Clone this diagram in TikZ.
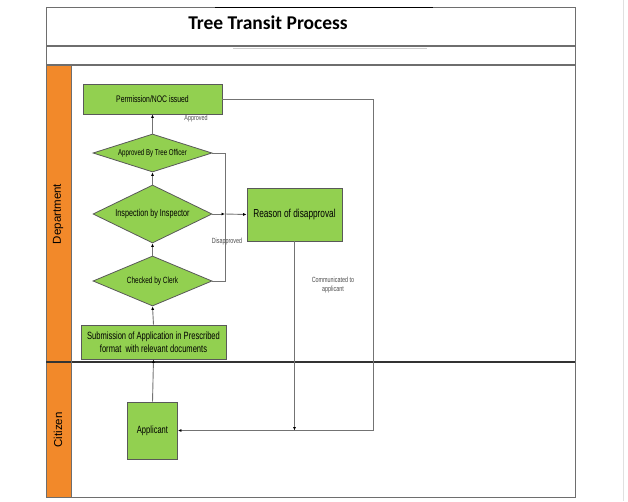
\documentclass[tikz,border=0pt]{standalone}
\usepackage{fontspec}
\setmainfont{Liberation Sans}
\newfontfamily\narrowfont{Liberation Sans}[FakeStretch=0.72]
\newfontfamily\titlefont{Carlito}
\usetikzlibrary{shapes.geometric,arrows.meta}

\definecolor{procgreen}{RGB}{146,208,80}
\definecolor{laneorange}{RGB}{242,137,42}
\definecolor{framegray}{RGB}{110,110,110}
\definecolor{linkgray}{RGB}{115,115,115}

\tikzset{
  procbox/.style={draw=black!65, fill=procgreen, line width=0.8pt, inner sep=1pt,
    align=center, font=\narrowfont\fontsize{9.5}{11}\selectfont},
  decision/.style={diamond, draw=black!65, fill=procgreen, line width=0.8pt,
    inner sep=0pt, shape aspect=4, minimum width=119pt,
    font=\narrowfont\fontsize{9}{10}\selectfont},
  link/.style={draw=linkgray, line width=0.9pt},
  note/.style={text=black!70, font=\narrowfont\fontsize{7.5}{9}\selectfont, align=center},
  lanelabel/.style={rotate=90, font=\fontsize{11.5}{13}\selectfont}
}

\begin{document}
\begin{tikzpicture}[x=1pt, y=-1pt, >={Latex[length=3.5pt,width=3pt,color=black]}]
\useasboundingbox (0,0) rectangle (628,501);

% frame and lanes
\fill[laneorange] (46,65) rectangle (71,497);
\draw[framegray, line width=1pt] (46,7) rectangle (575,497);
\draw[framegray, line width=1.2pt] (46,46) -- (575,46);
\draw[framegray, line width=1.2pt] (46,65) -- (575,65);
\draw[black!80, line width=1.2pt] (46,362) -- (575,362);
\draw[framegray, line width=0.8pt] (71,65) -- (71,497);
\draw[black, line width=1pt] (215,7) -- (433,7);
\draw[black!20, line width=1pt] (233,48) -- (427,48);
\draw[black!12, line width=1pt] (623,0) -- (623,501);

\node[font=\titlefont\bfseries\fontsize{19.5}{21}\selectfont] (title) at (268,23) {Tree Transit Process};
\node[lanelabel] (dept) at (58,214) {Department};
\node[lanelabel] (citz) at (58,430) {Citizen};

% process steps
\node[procbox, minimum width=139pt, minimum height=30pt] (perm) at (152.5,99) {Permission/NOC issued};
\node[decision, minimum height=38pt, font=\narrowfont\fontsize{8.5}{10}\selectfont] (appr) at (152.5,153) {Approved By Tree Officer};
\node[decision, minimum height=58pt, font=\narrowfont\fontsize{10}{11}\selectfont] (insp) at (152.5,214) {Inspection by Inspector};
\node[decision, minimum height=50pt] (chk) at (152.5,281) {Checked by Clerk};
\node[procbox, minimum width=145pt, minimum height=34pt, font=\narrowfont\fontsize{10.5}{12.5}\selectfont] (sub) at (153.5,342)
  {Submission of Application in Prescribed\\format\ \ with relevant documents};
\node[procbox, minimum width=95pt, minimum height=53pt, font=\narrowfont\fontsize{11.5}{13}\selectfont] (reason) at (294.5,214.5) {Reason of disapproval};
\node[procbox, minimum width=50pt, minimum height=57pt, font=\narrowfont\fontsize{10.5}{12}\selectfont] (appl) at (152.5,430.5) {Applicant};

\coordinate (dj) at (225,214);
\coordinate (cr) at (373,430.5);

% connectors
\draw[link,->] (appr.north) -- (perm.south);
\draw[link,->] (insp.north) -- (appr.south);
\draw[link,->] (chk.north) -- (insp.south);
\draw[link,->] (sub.north) -- (chk.south);
\draw[link,->] (appl.north) -- (sub.south);
\draw[link] (appr.east) -| (dj);
\draw[link] (chk.east) -| (dj);
\draw[link,->] (insp.east) -- (dj);
\draw[link,->] (dj) -- (reason.west);
\draw[link] (perm.east) -| (cr);
\draw[link,->] (cr) -- (appl.east);
\draw[link,->] (reason.south) -- (reason.south |- cr);

\node[note] (lapp) at (196,119) {Approved};
\node[note] (ldis) at (227,242) {Disapproved};
\node[note] (lcom) at (333,285) {Communicated to\\applicant};

\end{tikzpicture}
\end{document}
